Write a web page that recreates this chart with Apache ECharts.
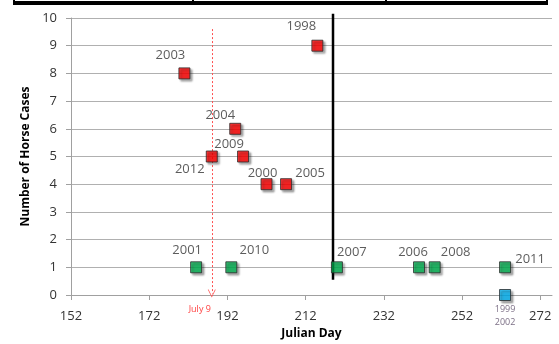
<!DOCTYPE html>
<html>
<head>
<meta charset="utf-8">
<script src="https://cdn.jsdelivr.net/npm/echarts@6/dist/echarts.min.js"></script>
<style>html,body{margin:0;padding:0;background:#fff}#c{width:559px;height:344px}</style>
</head>
<body>
<div id="c"></div>
<script>
// ---- data ----
const redYears = ['2003', '2004', '2012', '2009', '2000', '2005', '1998'];
const redDays = [181, 194, 188, 196, 202, 207, 215];
const redCases = [8, 6, 5, 5, 4, 4, 9];

const greenYears = ['2001', '2010', '2007', '2006', '2008', '2011'];
const greenDays = [184, 193, 220, 241, 245, 263];
const greenCases = [1, 1, 1, 1, 1, 1];

const blueYears = ['1999\n2002'];
const blueDays = [263];
const blueCases = [0];

const xTicks = [152, 172, 192, 212, 232, 252, 272];

const july9Day = 188;
const july9Range = [9.6, 0.05];
const cutoffDay = 219;
const cutoffRange = [0.55, 10.15];

// ---- label placement (style, kept apart from data) ----
const labelOffsets = {
  '2003': [-14, -18], '2004': [-15, -14], '2012': [-22, 13], '2009': [-14, -12],
  '2000': [-4, -11], '2005': [24, -11], '1998': [-16, -19],
  '2001': [-9, -17], '2010': [23, -17], '2007': [15, -15], '2006': [-6, -15],
  '2008': [21, -15], '2011': [25, -8], '1999\n2002': [0, 21]
};

const FONT = 'Open Sans';
const TXT = '#333333';

function build(years, days, cases) {
  return years.map((y, i) => ({
    value: [days[i], cases[i]],
    name: y,
    label: { offset: labelOffsets[y] }
  }));
}

function markerStyle(color) {
  return {
    color: color,
    borderColor: '#2a2a2a',
    borderWidth: 1,
    shadowBlur: 2,
    shadowOffsetX: 2,
    shadowOffsetY: 2,
    shadowColor: 'rgba(0,0,0,0.4)'
  };
}

const baseLabel = {
  show: true,
  position: 'inside',
  formatter: p => p.name,
  color: TXT,
  fontFamily: FONT,
  fontSize: 13
};

const chart = echarts.init(document.getElementById('c'), null, { renderer: 'canvas' });
chart.setOption({
  animation: false,
  backgroundColor: '#fff',
  grid: { left: 71, right: 7, top: 18, bottom: 49, outerBoundsMode: 'none', containLabel: false },
  xAxis: {
    type: 'value',
    min: 152, max: 275, interval: 20,
    name: 'Julian Day',
    nameLocation: 'middle',
    nameGap: 31,
    nameTextStyle: { fontFamily: FONT, fontSize: 12, fontWeight: 'bold', color: '#000' },
    axisLine: { show: true, lineStyle: { color: '#a0a0a0', width: 1 } },
    axisTick: { show: true, length: 5, lineStyle: { color: '#a0a0a0' }, customValues: xTicks },
    axisLabel: { color: TXT, fontFamily: FONT, fontSize: 13, margin: 15, customValues: xTicks },
    splitLine: { show: false }
  },
  yAxis: {
    type: 'value',
    min: 0, max: 10, interval: 1,
    name: 'Number of Horse Cases',
    nameLocation: 'middle',
    nameGap: 33,
    nameTextStyle: { fontFamily: FONT, fontSize: 12, fontWeight: 'bold', color: '#000' },
    axisLine: { show: true, lineStyle: { color: '#a0a0a0', width: 1 } },
    axisTick: { show: true, inside: false, length: 5, lineStyle: { color: '#a0a0a0' } },
    axisLabel: { color: TXT, fontFamily: FONT, fontSize: 13, margin: 14 },
    splitLine: { show: true, lineStyle: { color: '#b0b0b0', width: 1 } }
  },
  series: [
    {
      type: 'scatter', name: 'lines', data: [], silent: true,
      markLine: {
        silent: true, animation: false,
        label: { show: false },
        data: [
          [
            {
              coord: [july9Day, july9Range[0]], symbol: 'none',
              lineStyle: { color: '#ff5050', width: 1, type: [2, 2] },
              label: {
                show: true, position: 'end', formatter: 'July 9', color: '#ff4040',
                fontFamily: FONT, fontSize: 9, offset: [-12, 6]
              }
            },
            {
              coord: [july9Day, july9Range[1]],
              symbol: 'path://M0,10 L5,0 L10,10 L9,10 L5,2 L1,10 Z',
              symbolSize: [8, 8]
            }
          ]
        ]
      }
    },
    {
      type: 'scatter', name: 'red', symbol: 'rect', symbolSize: 11,
      data: build(redYears, redDays, redCases),
      itemStyle: markerStyle('#ff0000'),
      label: baseLabel, z: 5
    },
    {
      type: 'scatter', name: 'green', symbol: 'rect', symbolSize: 11,
      data: build(greenYears, greenDays, greenCases),
      itemStyle: markerStyle('#00b050'),
      label: baseLabel, z: 5
    },
    {
      type: 'scatter', name: 'blue', symbol: 'rect', symbolSize: 11,
      data: build(blueYears, blueDays, blueCases),
      itemStyle: markerStyle('#00b0f0'),
      label: Object.assign({}, baseLabel, { fontSize: 9, lineHeight: 13, color: '#5a4a66' }),
      z: 5
    }
  ]
});

// cutoff line (extends slightly above the axis max) positioned through the chart's scales
const p0 = chart.convertToPixel({ gridIndex: 0 }, [cutoffDay, cutoffRange[0]]);
const p1 = chart.convertToPixel({ gridIndex: 0 }, [cutoffDay, cutoffRange[1]]);
chart.setOption({
  graphic: [
    { type: 'rect', shape: { x: 13, y: 1, width: 535, height: 4 }, style: { fill: '#000' } },
    { type: 'rect', shape: { x: 13, y: 0, width: 2, height: 2 }, style: { fill: '#000' } },
    { type: 'rect', shape: { x: 192, y: 0, width: 2, height: 2 }, style: { fill: '#000' } },
    { type: 'rect', shape: { x: 385, y: 0, width: 2, height: 2 }, style: { fill: '#000' } },
    { type: 'rect', shape: { x: 546, y: 0, width: 2, height: 2 }, style: { fill: '#000' } },
    {
      type: 'line', z: 3,
      shape: { x1: p0[0], y1: p0[1], x2: p1[0], y2: p1[1] },
      style: { stroke: '#000', lineWidth: 2.5 }
    }
  ]
});
</script>
</body>
</html>
